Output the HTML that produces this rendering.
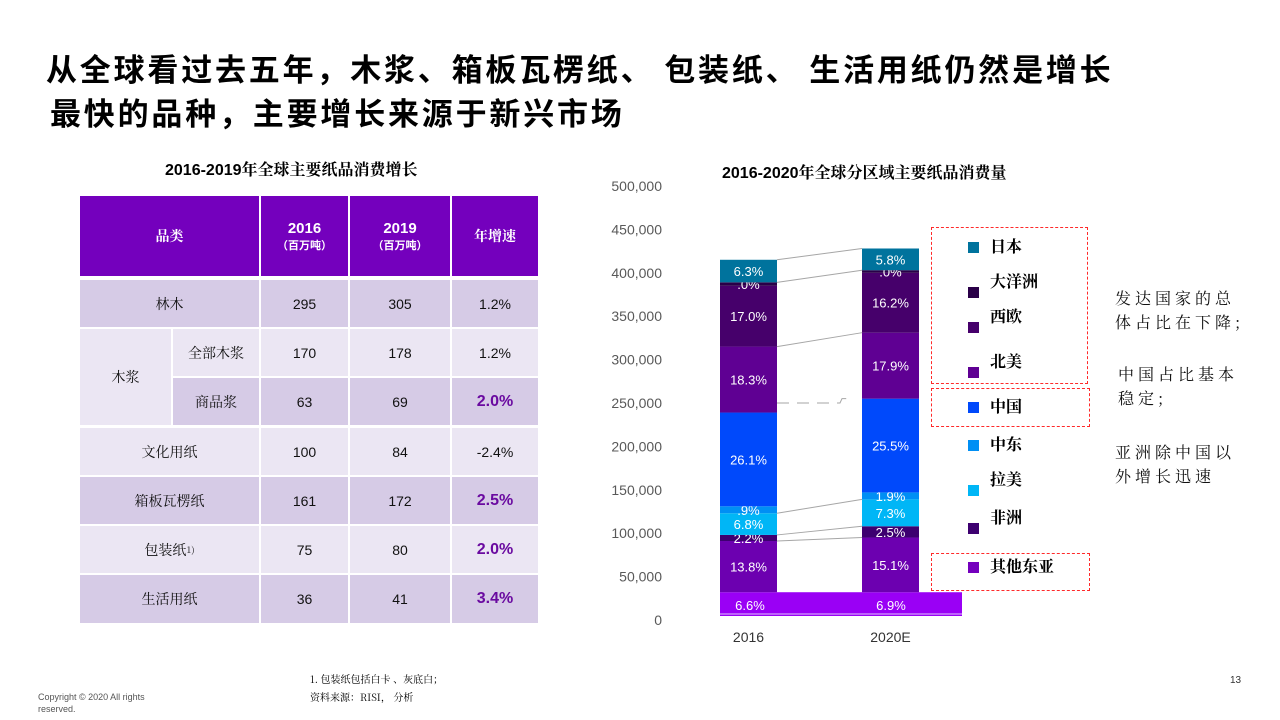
<!DOCTYPE html>
<html><head><meta charset="utf-8">
<style>
body{margin:0;width:1280px;height:720px;background:#fff;position:relative;overflow:hidden;font-family:"Liberation Sans","Noto Sans CJK SC",sans-serif;}
.abs{position:absolute;}
.title{left:46px;top:46px;font-size:31px;line-height:44px;font-weight:bold;color:#000;font-family:"Noto Sans CJK SC",sans-serif;letter-spacing:2.8px;}
.sub{font-size:16px;font-weight:bold;font-family:"Liberation Sans","Noto Serif CJK SC",sans-serif;}
.cell{position:absolute;display:flex;align-items:center;justify-content:center;font-size:14px;color:#111;text-align:center;box-sizing:border-box;}
.hd{background:#7400bd;color:#fff;font-weight:bold;}
.d{background:#d6cbe6;}
.l{background:#ebe6f3;}
.p{color:#6a0aa0;font-weight:bold;font-size:16px;}
.ser{font-family:"Noto Serif CJK SC",serif;}
.note{font-size:16px;line-height:24px;font-family:"Noto Serif CJK SC",serif;color:#111;letter-spacing:4px;}
</style></head><body>
<div class="abs title">从全球看过去五年，木浆、箱板瓦楞纸、 包装纸、 生活用纸仍然是增长<br><span style="margin-left:4px">最快的品种，主要增长来源于新兴市场</span></div>
<div class="abs sub" style="left:165px;top:157px">2016-2019年全球主要纸品消费增长</div>
<div class="abs sub" style="left:722px;top:160px">2016-2020年全球分区域主要纸品消费量</div>

<div id="tbl">
<div class="cell hd ser" style="left:80px;top:196px;width:179px;height:80px">品类</div>
<div class="cell hd" style="left:261px;top:196px;width:87px;height:80px;flex-direction:column;font-size:15px">2016<span style="font-size:11px">（百万吨）</span></div>
<div class="cell hd" style="left:350px;top:196px;width:100px;height:80px;flex-direction:column;font-size:15px">2019<span style="font-size:11px">（百万吨）</span></div>
<div class="cell hd ser" style="left:452px;top:196px;width:86px;height:80px">年增速</div>

<div class="cell d ser" style="left:80px;top:280px;width:179px;height:47px">林木</div>
<div class="cell d" style="left:261px;top:280px;width:87px;height:47px">295</div>
<div class="cell d" style="left:350px;top:280px;width:100px;height:47px">305</div>
<div class="cell d" style="left:452px;top:280px;width:86px;height:47px">1.2%</div>

<div class="cell l ser" style="left:80px;top:329px;width:91px;height:96px">木浆</div>
<div class="cell l ser" style="left:173px;top:329px;width:86px;height:47px">全部木浆</div>
<div class="cell l" style="left:261px;top:329px;width:87px;height:47px">170</div>
<div class="cell l" style="left:350px;top:329px;width:100px;height:47px">178</div>
<div class="cell l" style="left:452px;top:329px;width:86px;height:47px">1.2%</div>
<div class="cell d ser" style="left:173px;top:378px;width:86px;height:47px">商品浆</div>
<div class="cell d" style="left:261px;top:378px;width:87px;height:47px">63</div>
<div class="cell d" style="left:350px;top:378px;width:100px;height:47px">69</div>
<div class="cell d p" style="left:452px;top:378px;width:86px;height:47px">2.0%</div>

<div class="cell l ser" style="left:80px;top:428px;width:179px;height:47px">文化用纸</div>
<div class="cell l" style="left:261px;top:428px;width:87px;height:47px">100</div>
<div class="cell l" style="left:350px;top:428px;width:100px;height:47px">84</div>
<div class="cell l" style="left:452px;top:428px;width:86px;height:47px">-2.4%</div>

<div class="cell d ser" style="left:80px;top:477px;width:179px;height:47px">箱板瓦楞纸</div>
<div class="cell d" style="left:261px;top:477px;width:87px;height:47px">161</div>
<div class="cell d" style="left:350px;top:477px;width:100px;height:47px">172</div>
<div class="cell d p" style="left:452px;top:477px;width:86px;height:47px">2.5%</div>

<div class="cell l ser" style="left:80px;top:526px;width:179px;height:47px">包装纸<sup style="font-size:9px">1)</sup></div>
<div class="cell l" style="left:261px;top:526px;width:87px;height:47px">75</div>
<div class="cell l" style="left:350px;top:526px;width:100px;height:47px">80</div>
<div class="cell l p" style="left:452px;top:526px;width:86px;height:47px">2.0%</div>

<div class="cell d ser" style="left:80px;top:575px;width:179px;height:48px">生活用纸</div>
<div class="cell d" style="left:261px;top:575px;width:87px;height:48px">36</div>
<div class="cell d" style="left:350px;top:575px;width:100px;height:48px">41</div>
<div class="cell d p" style="left:452px;top:575px;width:86px;height:48px">3.4%</div>
</div>

<svg class="abs" style="left:0;top:0" width="1280" height="720" id="chart"></svg>

<div class="abs" style="left:931px;top:227px;width:155px;height:155px;border:1px dashed #ff2a2a"></div>
<div class="abs" style="left:931px;top:388px;width:157px;height:37px;border:1px dashed #ff2a2a"></div>
<div class="abs" style="left:931px;top:553px;width:157px;height:36px;border:1px dashed #ff2a2a"></div>

<div class="abs note" style="left:1115px;top:286px">发达国家的总<br>体占比在下降;</div>
<div class="abs note" style="left:1118px;top:362px">中国占比基本<br>稳定;</div>
<div class="abs note" style="left:1115px;top:440px">亚洲除中国以<br>外增长迅速</div>

<div class="abs ser" style="left:310px;top:670px;font-size:10px;line-height:18px">1. 包装纸包括白卡 、灰底白；<br>资料来源：RISI， 分析</div>
<div class="abs" style="left:38px;top:691px;font-size:9px;color:#555;line-height:12px">Copyright © 2020 All rights<br>reserved.</div>
<div class="abs" style="left:1230px;top:675px;font-size:10px;color:#333">13</div>

<script>
const categories=["2016","2020E"];
const regions=["其他东亚","非洲","拉美","中东","中国","北美","西欧","大洋洲","日本"];
const vals2016=[32000,59000,7000,25000,8000,108000,76000,70000,4000,26000];
const vals2020=[32000,63000,13000,31000,8000,108000,76000,69000,3000,25000];
const labels2016=["6.6%","13.8%","2.2%","6.8%",".9%","26.1%","18.3%","17.0%",".0%","6.3%"];
const labels2020=["6.9%","15.1%","2.5%","7.3%","1.9%","25.5%","17.9%","16.2%",".0%","5.8%"];
const segColors=["#9a00f5","#6c00b0","#3d0070","#00b6f6","#008ff4","#0049fb","#5f0093","#46006b","#2a0048","#00739d"];
const ticks=[0,50000,100000,150000,200000,250000,300000,350000,400000,450000,500000];
const legendNames=["日本","大洋洲","西欧","北美","中国","中东","拉美","非洲","其他东亚"];
const legendColors=["#00739d","#2a0048","#46006b","#5f0093","#0049fb","#008ff4","#00b6f6","#3d0070","#7400bd"];

const svg=document.getElementById('chart');
const NS='http://www.w3.org/2000/svg';
const y0=620,yTop=186,vMax=500000;
const yS=v=>y0-(v/vMax)*(y0-yTop);
const barX=[720,862],barW=57;
function mk(t,a,txt){const e=document.createElementNS(NS,t);for(const k in a)e.setAttribute(k,a[k]);if(txt!=null)e.textContent=txt;svg.appendChild(e);return e;}
ticks.forEach(t=>{
  const e=mk('text',{x:662,y:yS(t)+5,'text-anchor':'end','font-size':14,fill:'#595959','font-family':'Liberation Sans'},t.toLocaleString('en-US'));
  
  
});
const series=[vals2016,vals2020],labs=[labels2016,labels2020];
const tops=[[],[]];
const band=mk('rect',{x:barX[0],y:yS(vals2016[0]),width:962-barX[0],height:yS(0)-yS(vals2016[0])-4,fill:segColors[0]});


mk('line',{x1:barX[0],y1:yS(0)-6,x2:962,y2:yS(0)-6,stroke:'#e0c8ff','stroke-width':1});
series.forEach((vals,b)=>{
  let cum=vals[0];
  tops[b].push(cum);
  const t=mk('text',{x:barX[b]+(b==0?30:29),y:yS(vals[0]/2)+4,'text-anchor':'middle','font-size':13,fill:'#fff','font-family':'Liberation Sans'},labs[b][0]);
  
  
  for(let i=1;i<vals.length;i++){
    const yb=yS(cum),yt=yS(cum+vals[i]);
    const r=mk('rect',{x:barX[b],y:yt,width:barW,height:yb-yt,fill:segColors[i]});
    
    
    const l=mk('text',{x:barX[b]+barW/2,y:(yb+yt)/2+5,'text-anchor':'middle','font-size':13,fill:'#fff','font-family':'Liberation Sans'},labs[b][i]);
    
    
    cum+=vals[i];tops[b].push(cum);
  }
});
[1,2,3,6,8,9].forEach(i=>{
  const ln=mk('line',{x1:barX[0]+barW,y1:yS(tops[0][i]),x2:barX[1],y2:yS(tops[1][i]),stroke:'#a6a6a6','stroke-width':1});
  
  
});
mk('path',{d:`M${barX[0]+barW} ${yS(250000)} L840 ${yS(250000)} L842 ${yS(255000)} L850 ${yS(255000)}`,stroke:'#a6a6a6',fill:'none','stroke-dasharray':'12 8'});
categories.forEach((c,b)=>{
  const e=mk('text',{x:barX[b]+barW/2,y:642,'text-anchor':'middle','font-size':14,fill:'#333','font-family':'Liberation Sans'},c);
  
  
});
const legY=[245,280,315,360,405,443,478,516,565];
legendNames.forEach((n,i)=>{
  const r=mk('rect',{x:968,y:legY[i]+(i==1||i==2||i==3||i==6||i==7?7:-3),width:11,height:11,fill:legendColors[i]});
  
  
  const t=mk('text',{x:990,y:legY[i]+7,'font-size':16,'font-weight':'bold',fill:'#000','font-family':'Noto Serif CJK SC, serif'},n);
  
  
});
</script>
</body></html>
